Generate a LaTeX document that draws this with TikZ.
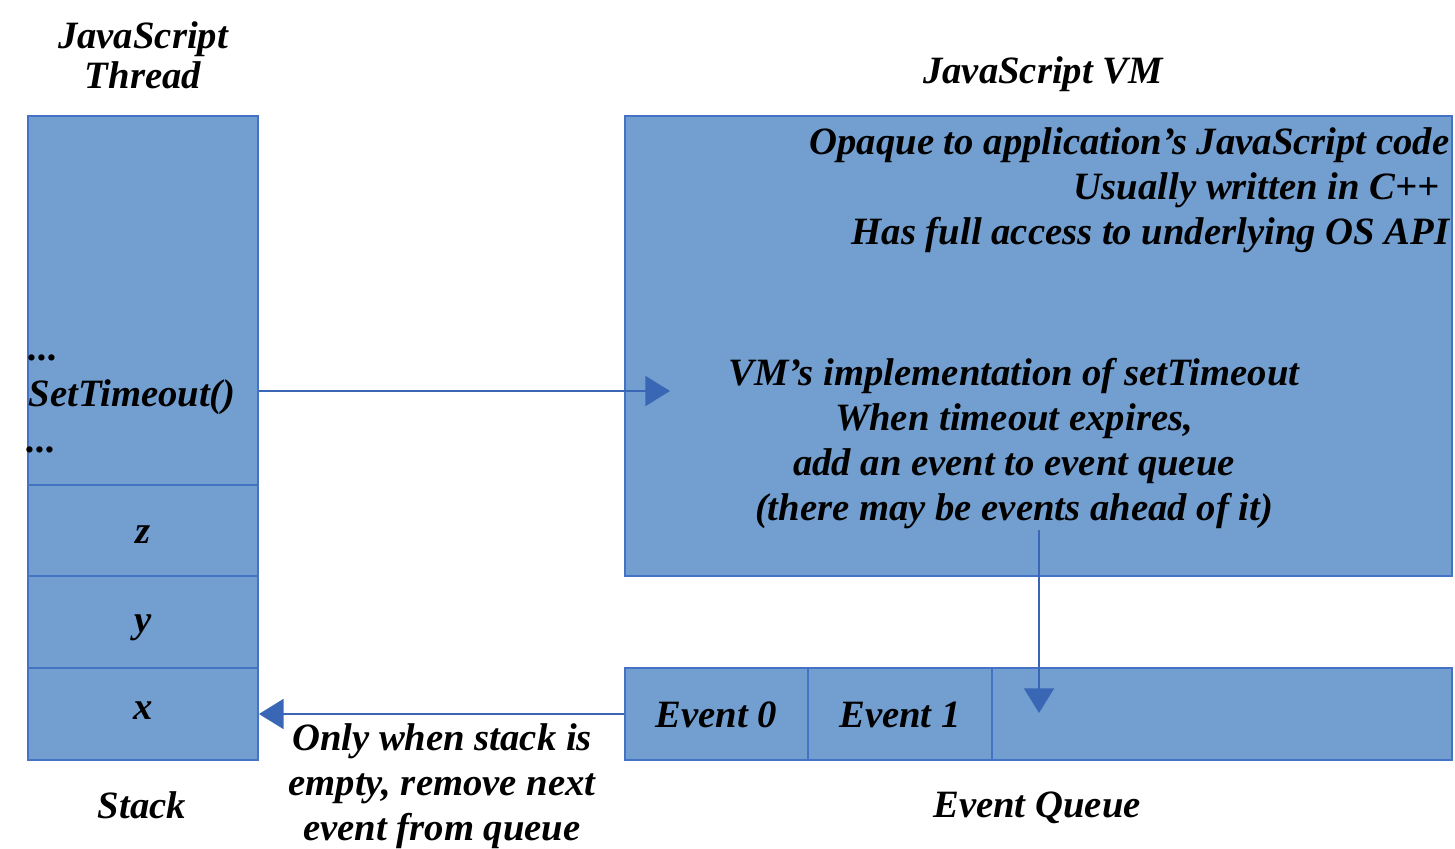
\documentclass[tikz,border=0pt]{standalone}
\usepackage{fontspec}
\setmainfont{Liberation Serif}
\usetikzlibrary{arrows.meta}
\definecolor{boxfill}{RGB}{114,159,207}
\definecolor{boxline}{RGB}{68,114,196}
\definecolor{arrowblue}{RGB}{58,103,181}
\tikzset{
  cell/.style 2 args={draw=boxline, line width=0.5pt, fill=boxfill, inner sep=0pt,
    minimum width=#1, minimum height=#2},
  label/.style={font=\fontsize{11}{12.8}\selectfont\bfseries\itshape, inner sep=0pt, align=center},
  flow/.style={draw=arrowblue, line width=0.6pt, -{Triangle[length=7pt,width=8.5pt]}}
}
\begin{document}
\begin{tikzpicture}[x=0.01cm, y=-0.01cm]
\useasboundingbox (0,0) rectangle (1455,849);

% call stack
\node[cell={2.30cm}{3.69cm}] (top) at (143,300.5) {};
\node[cell={2.30cm}{0.91cm}] (zc) at (143,530.5) {};
\node[cell={2.30cm}{0.92cm}] (yc) at (143,622) {};
\node[cell={2.30cm}{0.92cm}] (xc) at (143,714) {};
\node[label, anchor=west] (dots1) at (28,358) {...};
\node[label, anchor=west] (call) at (28,397) {SetTimeout()};
\node[label, anchor=west] (dots2) at (26,450) {...};
\node[label] (zl) at (143,535) {z};
\node[label] (yl) at (143,628) {y};
\node[label] (xl) at (143,711) {x};
\node[label] (thread) at (143,55) {JavaScript\\[-1.5pt]Thread};
\node[label] (stack) at (142,805) {Stack};

% virtual machine
\node[cell={8.27cm}{4.60cm}] (vm) at (1038.5,346) {};
\node[label] (vmtitle) at (1043,74) {JavaScript VM};
\node[label, anchor=east] (l1) at (1450,145) {Opaque to application's JavaScript code};
\node[label, anchor=east] (l2) at (1440,190) {Usually written in C++};
\node[label, anchor=east] (l3) at (1450,235) {Has full access to underlying OS API};
\node[label] (impl) at (1014,444) {VM's implementation of setTimeout\\When timeout expires,\\add an event to event queue\\(there may be events ahead of it)};

% event queue
\node[cell={1.83cm}{0.92cm}] (e0) at (716.5,714) {};
\node[cell={1.84cm}{0.92cm}] (e1) at (900,714) {};
\node[cell={4.60cm}{0.92cm}] (rest) at (1222,714) {};
\node[label] (e0l) at (716.5,715) {Event 0};
\node[label] (e1l) at (900,715) {Event 1};
\node[label] (queue) at (1037,808) {Event Queue};

% connectors
\coordinate (tipA) at (670,391);
\coordinate (srcB) at (1039,530);
\coordinate (tipB) at (1039,713);
\draw[flow] (top.east |- tipA) -- (tipA);
\draw[flow] (srcB) -- (tipB);
\draw[flow] (e0.west) -- (xc.east);
\node[label] (note) at (442,786) {Only when stack is\\empty, remove next\\event from queue};
\end{tikzpicture}
\end{document}
